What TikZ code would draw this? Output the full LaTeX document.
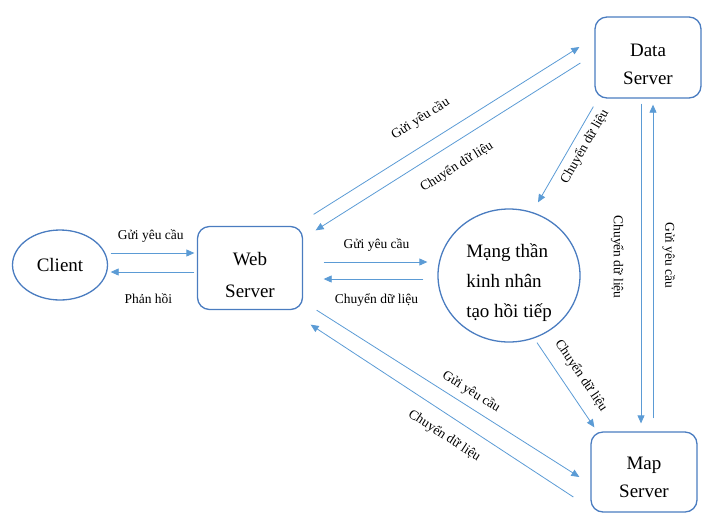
\documentclass[tikz,border=0pt]{standalone}
\usepackage{fontspec}
\setmainfont{Liberation Serif}
\usetikzlibrary{shapes.geometric,arrows.meta}
\definecolor{linkblue}{RGB}{91,155,213}
\definecolor{nodeblue}{RGB}{74,124,192}
\begin{document}
\begin{tikzpicture}[x=1pt, y=-1pt,
    srv/.style={draw=nodeblue, line width=1.3pt, rounded corners=12pt, minimum width=106pt, minimum height=81pt, align=center, font=\fontsize{19}{28}\selectfont},
    ell/.style={ellipse, draw=nodeblue, line width=1.3pt, inner sep=0pt},
    arr/.style={draw=linkblue, line width=0.8pt, -{Triangle[length=8pt,width=7pt]}},
    lbl/.style={font=\fontsize{13.5}{16}\selectfont, inner sep=1pt}]
  \useasboundingbox (0,0) rectangle (722,531);

  \node[ell, minimum width=95pt, minimum height=70pt, font=\fontsize{19}{23}\selectfont] (client) at (60,265) {Client};
  \node[srv, minimum width=105pt, minimum height=83pt, font=\fontsize{19}{32}\selectfont] (web) at (250,268) {\rule{0pt}{26.6pt}Web\\Server};
  \node[ell, minimum width=142pt, minimum height=133pt, align=left, font=\fontsize{19}{30}\selectfont] (nn) at (509,275.5) {\rule{0pt}{28pt}Mạng thần\\kinh nhân\\tạo hồi tiếp};
  \node[srv] (data) at (648,57.5) {\rule{0pt}{26.6pt}Data\\Server};
  \node[srv, minimum height=80pt] (map) at (644,472) {\rule{0pt}{22.6pt}Map\\Server};

  % client <-> web server
  \draw[arr] ([shift={(2.5,-12)}]client.east) to node[lbl, pos=.48, above=9pt] {Gửi yêu cầu} ([shift={(-2.5,-15)}]web.west);
  \draw[arr] ([shift={(-2.5,4)}]web.west) to node[lbl, pos=.55, below=20pt] {Phản hồi} ([shift={(2.5,7)}]client.east);

  % web server <-> mang than kinh
  \draw[arr] ([shift={(20.5,-6)}]web.east) to node[lbl, pos=.51, above=9pt] {Gửi yêu cầu} ([shift={(-10,-13.5)}]nn.west);
  \draw[arr] ([shift={(-14,3.5)}]nn.west) to node[lbl, pos=.47, below=13pt] {Chuyển dữ liệu} ([shift={(20.5,11)}]web.east);

  % web server <-> data server
  \draw[arr] ([shift={(10.5,-11.5)}]web.north east) to node[lbl, sloped, pos=.45, above=16pt] {Gửi yêu cầu} ([shift={(-15,-10.5)}]data.west);
  \draw[arr] ([shift={(-14,5.5)}]data.west) to node[lbl, sloped, pos=.51, below=14pt] {Chuyển dữ liệu} ([shift={(12.5,4.5)}]web.north east);

  % data server -> mang than kinh
  \draw[arr] ([shift={(-1,8)}]data.south west) to node[lbl, sloped, pos=.35, below=5pt] {Chuyển dữ liệu} ([shift={(29,-6)}]nn.north);

  % data server <-> map server
  \draw[arr] ([shift={(-7,5)}]data.south) to node[lbl, sloped, pos=.48, below=16pt] {Chuyển dữ liệu} ([shift={(-3,-8)}]map.north);
  \draw[arr] ([shift={(9,-13)}]map.north) to node[lbl, rotate=-90, pos=.52, above=8pt] {Gửi yêu cầu} ([shift={(5,6)}]data.south);

  % mang than kinh -> map server
  \draw[arr] ([shift={(28,0)}]nn.south) to node[lbl, sloped, pos=.51, above=10pt] {Chuyển dữ liệu} ([shift={(4,-4)}]map.north west);

  % web server <-> map server
  \draw[arr] ([shift={(13.5,0)}]web.south east) to node[lbl, sloped, pos=.56, above=6pt] {Gửi yêu cầu} ([shift={(-11,5)}]map.west);
  \draw[arr] ([shift={(-17,25)}]map.west) to node[lbl, sloped, pos=.45, below=12pt] {Chuyển dữ liệu} ([shift={(7.5,14.5)}]web.south east);
\end{tikzpicture}
\end{document}
